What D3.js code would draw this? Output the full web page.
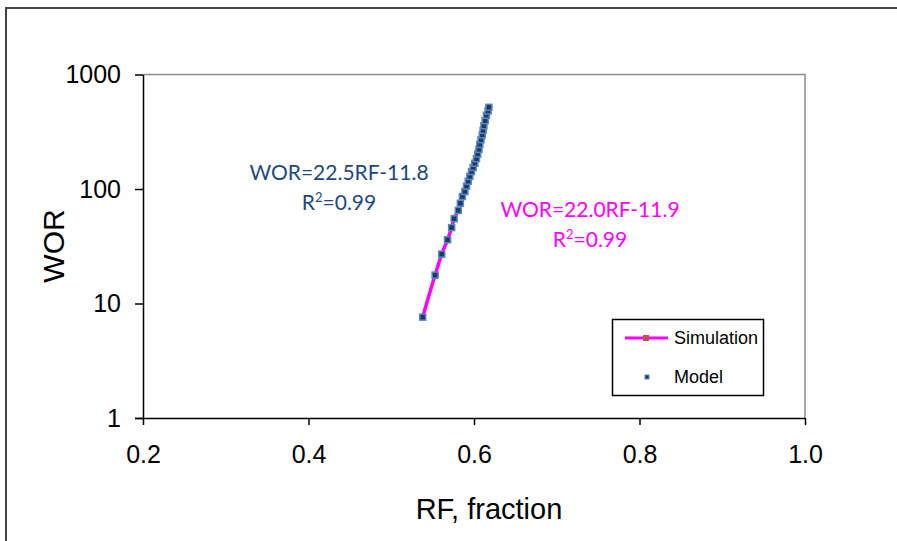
<!DOCTYPE html>
<html><head><meta charset="utf-8">
<script src="https://cdn.jsdelivr.net/npm/d3@7"></script>
<style>body{margin:0;background:#fff}svg{display:block}</style>
</head><body>
<svg id="c" width="897" height="541"></svg>
<script>
const xTicks = [0.2, 0.4, 0.6, 0.8, 1.0];
const yTicks = [1, 10, 100, 1000];
const simRF  = [0.538, 0.553, 0.561, 0.568, 0.573, 0.576, 0.581, 0.5835, 0.586, 0.589, 0.591, 0.593, 0.595, 0.597, 0.599, 0.601, 0.603, 0.6045, 0.606, 0.607, 0.6085, 0.610, 0.611, 0.612, 0.6135, 0.615, 0.617, 0.618];
const simWOR = [7.6, 17.7, 27, 36, 46, 55, 65, 75, 86, 95, 106, 117, 129, 142, 154, 168, 184, 202, 222, 245, 270, 297, 325, 357, 395, 440, 480, 517];
const modelRF  = [0.538, 0.553, 0.561, 0.568, 0.573, 0.576, 0.581, 0.5835, 0.586, 0.589, 0.591, 0.593, 0.595, 0.597, 0.599, 0.601, 0.603, 0.6045, 0.606, 0.607, 0.6085, 0.610, 0.611, 0.612, 0.6135, 0.615, 0.617, 0.618];
const modelWOR = [7.6, 17.7, 27, 36, 46, 55, 65, 75, 86, 95, 106, 117, 129, 142, 154, 168, 184, 202, 222, 245, 270, 297, 325, 357, 395, 440, 480, 517];
const seriesNames = ["Simulation", "Model"];
const fitModel = ["WOR=22.5RF-11.8", "0.99"];
const fitSim = ["WOR=22.0RF-11.9", "0.99"];

const svg = d3.select("#c");
const L = 143, R = 805, T = 74.5, B = 418;
const x = d3.scaleLinear().domain([0.2, 1.0]).range([L, R]);
const y = d3.scaleLog().domain([1, 1000]).range([B, T]);

// outer chart border
svg.append("rect").attr("x", 6).attr("y", 8).attr("width", 1000).attr("height", 1000)
  .attr("fill", "none").attr("stroke", "#444").attr("stroke-width", 2);

// plot area border (top/right gray)
svg.append("path").attr("d", `M${L},${T}H${R}V${B}`).attr("fill", "none")
  .attr("stroke", "#8c8c8c").attr("stroke-width", 1.5);

const font = "'Liberation Sans', Arial, sans-serif";
const gx = svg.append("g").attr("transform", `translate(0,${B})`)
  .call(d3.axisBottom(x).tickValues(xTicks).tickFormat(d3.format(".1f")).tickSize(7).tickSizeOuter(0).tickPadding(20));
const gy = svg.append("g").attr("transform", `translate(${L},0)`)
  .call(d3.axisLeft(y).tickValues(yTicks).tickFormat(d3.format("d")).tickSize(8).tickSizeOuter(0).tickPadding(14));
[gx, gy].forEach(g => {
  g.selectAll("path.domain").attr("stroke", "#000").attr("stroke-width", 1.5);
  g.selectAll(".tick line").attr("stroke", "#000").attr("stroke-width", 1.5);
  g.selectAll(".tick text").attr("fill", "#000").style("font-family", font).style("font-size", "25px");
});
gx.selectAll("path.domain").attr("d", `M${L - 8},0.5H${R}`);

// axis titles
svg.append("text").attr("x", 489).attr("y", 519).attr("text-anchor", "middle")
  .style("font-family", font).style("font-size", "29px").text("RF, fraction");
svg.append("text").attr("transform", "translate(53,246) rotate(-90)").attr("text-anchor", "middle")
  .attr("dy", "0.35em").style("font-family", font).style("font-size", "30px").text("WOR");

// simulation line
const simData = simRF.map((r, i) => [r, simWOR[i]]);
const modelData = modelRF.map((r, i) => [r, modelWOR[i]]);
svg.append("path").datum(simData)
  .attr("d", d3.line().x(d => x(d[0])).y(d => y(d[1])).curve(d3.curveMonotoneX))
  .attr("fill", "none").attr("stroke", "#ff00ff").attr("stroke-width", 3.5);
svg.append("g").selectAll("rect").data(simData).join("rect")
  .attr("x", d => x(d[0]) - 2.5).attr("y", d => y(d[1]) - 2.5).attr("width", 5).attr("height", 5)
  .attr("fill", "#c0504d");
// model markers
svg.append("g").selectAll("rect").data(modelData).join("rect")
  .attr("x", d => x(d[0]) - 3).attr("y", d => y(d[1]) - 3).attr("width", 6).attr("height", 6)
  .attr("fill", "#1f3a5f").attr("stroke", "#5a86c2").attr("stroke-width", 1.5);

// annotations
const afont = "Lato, 'Open Sans', sans-serif";
function eq(cx, y1, y2, lines, color) {
  svg.append("text").attr("x", cx).attr("y", y1).attr("text-anchor", "middle").attr("fill", color)
    .style("font-family", afont).style("font-size", "21px").text(lines[0]);
  const t = svg.append("text").attr("x", cx).attr("y", y2).attr("text-anchor", "middle").attr("fill", color)
    .style("font-family", afont).style("font-size", "21px");
  t.append("tspan").text("R");
  t.append("tspan").attr("dy", -8).style("font-size", "13px").text("2");
  t.append("tspan").attr("dy", 8).text("=" + lines[1]);
}
eq(339, 180, 210, fitModel, "#1f497d");
eq(590, 217, 247, fitSim, "#ff00ff");

// legend
const lg = svg.append("g");
lg.append("rect").attr("x", 612.5).attr("y", 319.5).attr("width", 151).attr("height", 76)
  .attr("fill", "#fff").attr("stroke", "#000").attr("stroke-width", 1.5);
lg.append("line").attr("x1", 625).attr("x2", 668).attr("y1", 338).attr("y2", 338)
  .attr("stroke", "#ff00ff").attr("stroke-width", 3);
lg.append("rect").attr("x", 643).attr("y", 335).attr("width", 6).attr("height", 6).attr("fill", "#c0504d");
lg.append("rect").attr("x", 645).attr("y", 375).attr("width", 4).attr("height", 4)
  .attr("fill", "#1f3a5f").attr("stroke", "#5a86c2").attr("stroke-width", 1);
lg.selectAll("text.l").data(seriesNames).join("text").attr("class", "l")
  .attr("x", 674).attr("y", (d, i) => 338 + i * 39).attr("dy", "0.35em")
  .style("font-family", font).style("font-size", "18px").text(d => d);
</script>
</body></html>
